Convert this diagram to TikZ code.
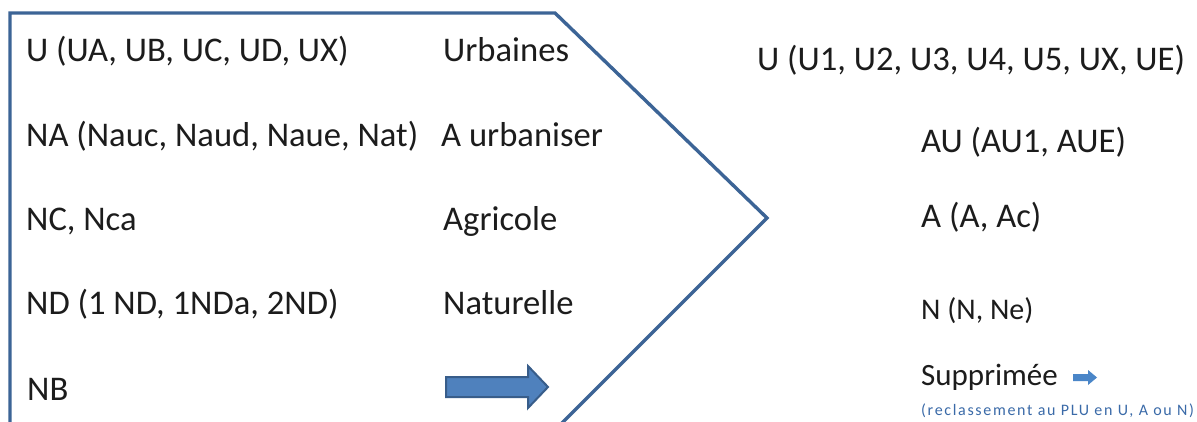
\documentclass[tikz,border=0pt]{standalone}
\usepackage{fontspec}
\setmainfont{Carlito}
\begin{document}
\begin{tikzpicture}[x=1pt,y=-1pt,
  frameline/.style={draw=frameblue,line width=3.4pt,line join=miter},
  zone/.style={anchor=base west,inner sep=0pt,text=txt,font=\fontsize{34.6}{41}\selectfont},
  zonesmall/.style={zone,font=\fontsize{30}{36}\selectfont},
  zonemid/.style={zone,font=\fontsize{31}{37}\selectfont},
  note/.style={anchor=base west,inner sep=0pt,text=notecol,
    font=\fontsize{16}{19}\selectfont\addfontfeature{LetterSpace=10.5}},
  bigarrow/.style={fill=arrowfill,draw=arrowline,line width=2pt,line join=miter},
  smallarrow/.style={fill=arrowfill2}]
\definecolor{frameblue}{HTML}{3C6496}
\definecolor{txt}{HTML}{1C1C1C}
\definecolor{arrowfill}{HTML}{4F81BD}
\definecolor{arrowline}{HTML}{385D8A}
\definecolor{arrowfill2}{HTML}{4A86C8}
\definecolor{notecol}{HTML}{3A6AA8}
\useasboundingbox (0,0) rectangle (1197,421);
\clip (0,0) rectangle (1197,421);
\fill[white] (0,0) rectangle (1197,421);

% chevron-shaped frame around the former zoning
\draw[frameline] (10,440) -- (10,13) -- (555,13) -- (767,218) -- (545,440);

% former zones (POS) and their nature
\node[zone] (posU)  at (26,61)  {U (UA, UB, UC, UD, UX)};
\node[zone] (natU)  at (443,61) {Urbaines};
\node[zone] (posNA) at (26,146) {NA (Nauc, Naud, Naue, Nat)};
\node[zone] (natNA) at (441,146) {A urbaniser};
\node[zone] (posNC) at (26,230) {NC, Nca};
\node[zone] (natNC) at (443,230) {Agricole};
\node[zone] (posND) at (26,314) {ND (1 ND, 1NDa, 2ND)};
\node[zone] (natND) at (443,314) {Naturelle};
\node[zone] (posNB) at (27,400) {NB};

% new zones (PLU)
\node[zone] (pluU)  at (757,70)  {U (U1, U2, U3, U4, U5, UX, UE)};
\node[zone] (pluAU) at (921,152) {AU (AU1, AUE)};
\node[zone] (pluA)  at (921,227) {A (A, Ac)};
\node[zonesmall] (pluN) at (921,319) {N (N, Ne)};
\node[zonemid] (pluNB) at (921,385) {Supprimée};
\node[note] (pluNote) at (921,415) {(reclassement au PLU en U, A ou N)};

% block arrow for the NB line
\path[bigarrow] (446,377) -- (528,377) -- (528,366) -- (548,387) -- (528,408)
  -- (528,397) -- (446,397) -- cycle;

% small arrow after "Supprimée"
\coordinate (sa) at (1073,374);
\path[smallarrow] (sa) -- ++(15,0) -- ++(0,-4) -- ++(9,7.5) -- ++(-9,7.5)
  -- ++(0,-4) -- ++(-15,0) -- cycle;
\end{tikzpicture}
\end{document}
